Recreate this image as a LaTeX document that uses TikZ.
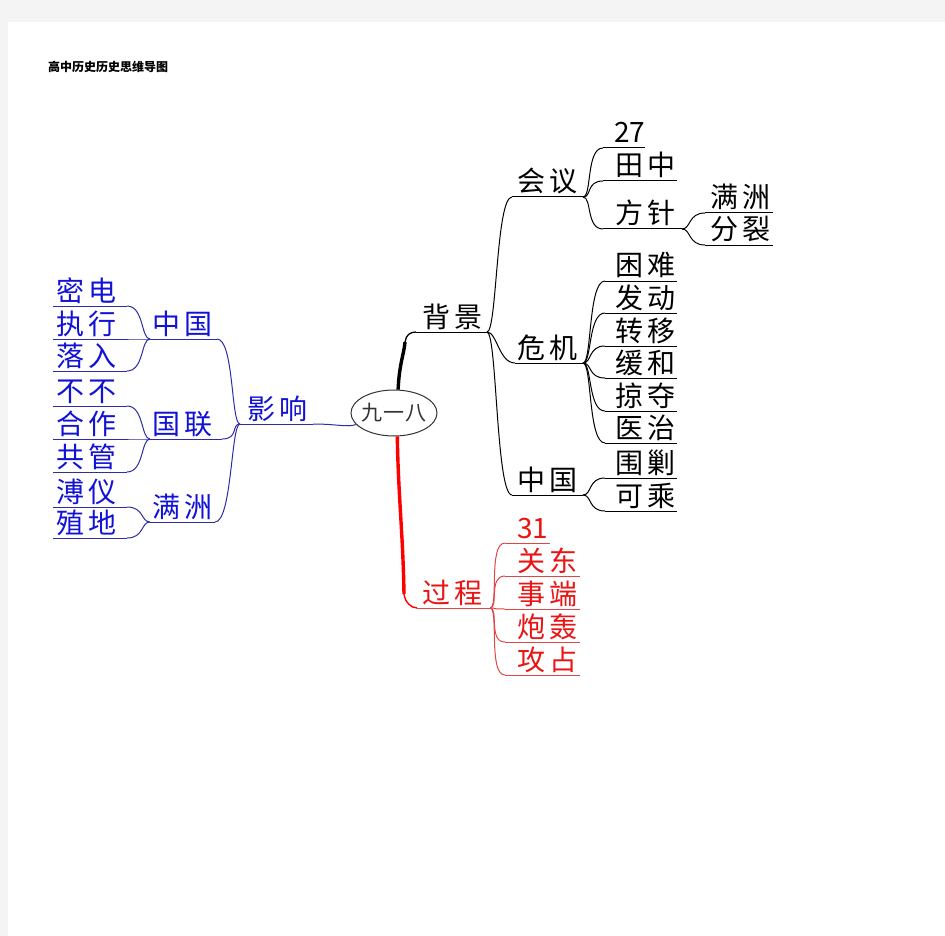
\documentclass[tikz,border=0pt]{standalone}
\usepackage{fontspec}
\newfontfamily\cjk{Noto Sans CJK SC}
\usetikzlibrary{shapes.geometric}
\definecolor{pagegray}{HTML}{F4F4F4}
\definecolor{bluetext}{RGB}{18,18,215}
\definecolor{blueln}{RGB}{45,45,165}
\definecolor{redtext}{RGB}{235,20,20}
\definecolor{redln}{RGB}{225,70,70}
\newcommand\gp{\kern4pt}
% #1 name, #2 x1, #3 x2, #4 y, #5 text-left x, #6 style prefix, #7 text
\newcommand\mmrow[7]{%
  \coordinate (#1-a) at (#2,#4);
  \coordinate (#1-b) at (#3,#4);
  \node[#6txt, anchor=base west] (#1) at (#5,#4-5) {#7};
  \draw[#6ln] (#1-a) -- (#1-b);}
\newcommand\rcurve[3]{\draw[#1] (#2) .. controls +(9,0) and +(-17,0) .. (#3);}
\newcommand\lcurve[3]{\draw[#1] (#2) .. controls +(-9,0) and +(17,0) .. (#3);}
\begin{document}
\begin{tikzpicture}[x=1pt,y=-1pt,
  ktxt/.style={font=\cjk\fontsize{28}{28}\selectfont, text=black, inner sep=0},
  kln/.style={draw=black, line width=1},
  btxt/.style={font=\cjk\fontsize{28}{28}\selectfont, text=bluetext, inner sep=0},
  bln/.style={draw=blueln, line width=1},
  rtxt/.style={font=\cjk\fontsize{28}{28}\selectfont, text=redtext, inner sep=0},
  rln/.style={draw=redln, line width=1}]
\useasboundingbox (0,0) rectangle (945,936);
\fill[pagegray] (0,0) rectangle (945,936);
\fill[white] (8,22) rectangle (945,936);
\node[anchor=west, inner sep=0, font=\cjk\bfseries\fontsize{12}{12}\selectfont] (title) at (48,67) {高中历史历史思维导图};
% centre
\node[ellipse, draw=black!80, line width=1, minimum width=86, minimum height=46, inner sep=0] (c) at (394,413) {};
\node[inner sep=0, font=\cjk\fontsize{21}{21}\selectfont, text=black!80] (ct) at (c.center) {九\kern1pt 一\kern1pt 八};
% ---------- black branch ----------
\mmrow{bj}{416}{487}{332}{422}{k}{背\gp 景}
\draw[black, line width=3.4] (c.80) .. controls +(1,-25) and +(-1,12) .. (405,342);
\draw[black, line width=1.3] (405,342) .. controls +(1,-7) and +(-6,0) .. (bj-a);
\mmrow{hy}{512}{583}{197}{517}{k}{会\gp 议}
\mmrow{wj}{515}{583}{363}{517}{k}{危\gp 机}
\mmrow{zgR}{512}{583}{495}{517}{k}{中\gp 国}
\draw[kln] (bj-b) .. controls +(10,0) and +(-16,0) .. (hy-a);
\draw[kln] (bj-b) .. controls +(10,0) and +(-16,0) .. (wj-a);
\draw[kln] (bj-b) .. controls +(10,0) and +(-16,0) .. (zgR-a);
% 会议
\mmrow{ns}{603}{645}{148}{614}{k}{27}
\mmrow{tz}{603}{677}{181}{615}{k}{田\gp 中}
\mmrow{fz}{603}{682}{229}{615}{k}{方\gp 针}
\rcurve{kln}{hy-b}{ns-a}
\rcurve{kln}{hy-b}{tz-a}
\rcurve{kln}{hy-b}{fz-a}
\mmrow{mzR}{705}{773}{213}{710}{k}{满\gp 洲}
\mmrow{fl}{705}{773}{245}{710}{k}{分\gp 裂}
\rcurve{kln}{fz-b}{mzR-a}
\rcurve{kln}{fz-b}{fl-a}
% 危机
\mmrow{kn}{605}{677}{281}{615}{k}{困\gp 难}
\mmrow{fd}{605}{677}{313}{615}{k}{发\gp 动}
\mmrow{zy}{605}{677}{346}{615}{k}{转\gp 移}
\mmrow{hh}{605}{677}{378}{615}{k}{缓\gp 和}
\mmrow{ld}{605}{677}{411}{615}{k}{掠\gp 夺}
\mmrow{yz}{605}{677}{443}{615}{k}{医\gp 治}
\rcurve{kln}{wj-b}{kn-a}
\rcurve{kln}{wj-b}{fd-a}
\rcurve{kln}{wj-b}{zy-a}
\rcurve{kln}{wj-b}{hh-a}
\rcurve{kln}{wj-b}{ld-a}
\rcurve{kln}{wj-b}{yz-a}
% 中国 (right)
\mmrow{wj2}{605}{677}{478}{615}{k}{围\gp 剿}
\mmrow{kc}{605}{677}{511}{615}{k}{可\gp 乘}
\rcurve{kln}{zgR-b}{wj2-a}
\rcurve{kln}{zgR-b}{kc-a}
% ---------- red branch ----------
\mmrow{gc}{417}{490}{608}{422}{r}{过\gp 程}
\draw[red, line width=3.4] (c.-82) .. controls +(1,60) and +(-1,-60) .. (404,594);
\draw[red, line width=1.4] (404,594) .. controls +(1,8) and +(-6,0) .. (gc-a);
\mmrow{sy}{505}{550}{543}{517}{r}{31}
\mmrow{gd}{505}{580}{576}{517}{r}{关\gp 东}
\mmrow{sd}{505}{580}{609}{517}{r}{事\gp 端}
\mmrow{ph}{505}{580}{642}{517}{r}{炮\gp 轰}
\mmrow{gz}{505}{580}{675}{517}{r}{攻\gp 占}
\rcurve{rln}{gc-b}{sy-a}
\rcurve{rln}{gc-b}{gd-a}
\rcurve{rln}{gc-b}{sd-a}
\rcurve{rln}{gc-b}{ph-a}
\rcurve{rln}{gc-b}{gz-a}
% ---------- blue branch ----------
\mmrow{yx}{240}{313}{424}{247}{b}{影\gp 响}
\draw[bln] (yx-b) .. controls +(25,0) and +(-10,3) .. (c.197);
\mmrow{zgL}{150}{217}{339}{152}{b}{中\gp 国}
\mmrow{gl}{150}{222}{439}{152}{b}{国\gp 联}
\mmrow{mzL}{150}{215}{522}{152}{b}{满\gp 洲}
\lcurve{bln}{yx-a}{zgL-b}
\lcurve{bln}{yx-a}{gl-b}
\lcurve{bln}{yx-a}{mzL-b}
\mmrow{md}{53}{127}{306}{56}{b}{密\gp 电}
\mmrow{zx}{53}{127}{339}{56}{b}{执\gp 行}
\mmrow{lr}{53}{127}{371}{56}{b}{落\gp 入}
\lcurve{bln}{zgL-a}{md-b}
\lcurve{bln}{zgL-a}{zx-b}
\lcurve{bln}{zgL-a}{lr-b}
\mmrow{bb}{53}{127}{406}{56}{b}{不\gp 不}
\mmrow{hz}{53}{127}{439}{56}{b}{合\gp 作}
\mmrow{gg}{53}{127}{472}{56}{b}{共\gp 管}
\lcurve{bln}{gl-a}{bb-b}
\lcurve{bln}{gl-a}{hz-b}
\lcurve{bln}{gl-a}{gg-b}
\mmrow{py}{53}{127}{507}{56}{b}{溥\gp 仪}
\mmrow{zd}{53}{127}{538}{56}{b}{殖\gp 地}
\lcurve{bln}{mzL-a}{py-b}
\lcurve{bln}{mzL-a}{zd-b}
\end{tikzpicture}
\end{document}
